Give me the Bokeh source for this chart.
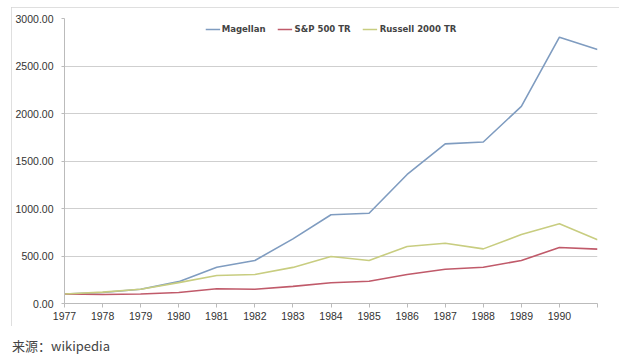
from bokeh.plotting import figure
from bokeh.models import (Range1d, FixedTicker, PrintfTickFormatter, Legend, LegendItem, Div)
from bokeh.layouts import column
from bokeh.embed import file_html
from bokeh.resources import INLINE

years = list(range(1977, 1992))
magellan = [100, 115, 150, 230, 382, 453, 680, 934, 950, 1358, 1680, 1700, 2075, 2803, 2674]
sp500 = [100, 95, 100, 115, 155, 150, 180, 218, 235, 305, 361, 382, 453, 589, 572]
russell = [100, 120, 150, 220, 295, 305, 380, 495, 453, 600, 635, 575, 726, 839, 670]
series_names = ["Magellan", "S&P 500 TR", "Russell 2000 TR"]
series_colors = ["#7f9cc0", "#c05a6a", "#c8cd80"]
y_ticks = [0, 500, 1000, 1500, 2000, 2500, 3000]
x_labels = {y: str(y) for y in years}
x_labels[1991] = ""

p = figure(width=608, height=319, output_backend="svg", toolbar_location=None,
           x_range=Range1d(1977, 1991), y_range=Range1d(0, 3000),
           min_border_left=53, min_border_right=22, min_border_top=11, min_border_bottom=23,
           styles={"margin-left": "11px", "margin-top": "7px",
                   "outline": "1px solid #d4d4d4", "outline-offset": "-1px"})
p.outline_line_color = None
p.background_fill_color = "white"
p.border_fill_color = "white"

renderers = []
for vals, name, col in zip([magellan, sp500, russell], series_names, series_colors):
    r = p.line(years, vals, line_color=col, line_width=1.6)
    renderers.append(r)

p.xgrid.grid_line_color = None
p.ygrid.grid_line_color = "#cfcfcf"
p.ygrid.grid_line_width = 1
p.ygrid.ticker = FixedTicker(ticks=y_ticks)

p.yaxis.ticker = FixedTicker(ticks=y_ticks)
p.yaxis.formatter = PrintfTickFormatter(format="%.2f")
p.yaxis.axis_line_color = "#bbbbbb"
p.yaxis.major_tick_line_color = "#bbbbbb"
p.yaxis.major_tick_out = 3
p.yaxis.major_tick_in = 0
p.yaxis.minor_tick_line_color = None
p.yaxis.major_label_standoff = 8

p.xaxis.ticker = FixedTicker(ticks=years)
p.xaxis.major_label_overrides = x_labels
p.xaxis.axis_line_color = "#bbbbbb"
p.xaxis.major_tick_line_color = "#bbbbbb"
p.xaxis.major_tick_out = 4
p.xaxis.major_tick_in = 0
p.xaxis.minor_tick_line_color = None
p.xaxis.major_label_standoff = 4

for ax in [p.xaxis, p.yaxis]:
    ax.major_label_text_font = "Liberation Sans"
    ax.major_label_text_font_size = "10.5px"
    ax.major_label_text_color = "#333333"

legend = Legend(items=[LegendItem(label=n, renderers=[r]) for n, r in zip(series_names, renderers)],
                orientation="horizontal", location="top_center",
                label_text_font="DejaVu Sans Condensed", label_text_font_style="bold",
                label_text_font_size="9.5px", label_text_color="#444444",
                glyph_width=15, glyph_height=10, spacing=12, label_standoff=2,
                padding=0, margin=5, border_line_color=None, background_fill_alpha=0)
p.add_layout(legend, "center")

caption = Div(text="来源：wikipedia", width=300,
              styles={"font-family": "'Noto Sans CJK SC', 'Liberation Sans'", "font-size": "13px",
                      "color": "#444444", "margin-left": "12px", "margin-top": "11px",
                      "line-height": "18px"})

layout = column(p, caption, spacing=0)
open("out.html", "w").write(file_html(layout, INLINE))
